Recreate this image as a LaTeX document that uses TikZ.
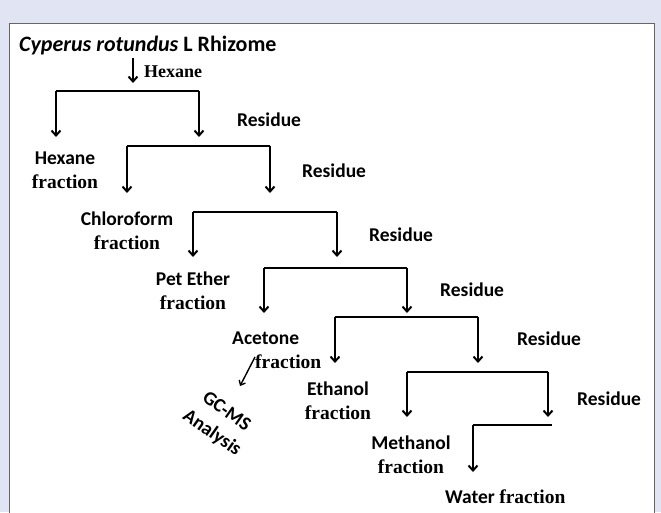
\documentclass[tikz,border=0pt]{standalone}
\usepackage{fontspec}
\usepackage{tikz}
\usetikzlibrary{arrows.meta,positioning}
\newfontfamily\calib{Carlito}
\newfontfamily\tms{Liberation Serif}
\definecolor{lavbg}{HTML}{E1E4F2}

\begin{document}
\begin{tikzpicture}[x=1pt,y=-1pt,
    sans/.style={font=\calib\bfseries\fontsize{19.5}{24}\selectfont,inner sep=0pt},
    frac/.style={sans,align=center},
    link/.style={line width=2pt,-{Straight Barb[length=5pt,width=9pt,line width=2pt]}},
    bar/.style={line width=2pt}]
        \useasboundingbox (0,0) rectangle (661,512);
        \fill[lavbg] (0,0) rectangle (661,512);
        \filldraw[fill=white,draw=gray!80!black,line width=0.8pt] (9,23) -- (9,520) -- (654,520) -- (654,23) -- cycle;
        % labels
        \node[inner sep=0pt,anchor=base west,font=\calib\bfseries\fontsize{22}{26}\selectfont] (plant) at (19,51) {\textit{Cyperus rotundus} L Rhizome};
        \node[inner sep=0pt,anchor=base west,font=\tms\bfseries\fontsize{18}{22}\selectfont] (hexsolv) at (144,77) {Hexane};
        \node[sans,anchor=base west] (res1) at (237,126) {Residue};
        \node[sans,anchor=base west] (res2) at (302,177) {Residue};
        \node[sans,anchor=base west] (res3) at (369,241) {Residue};
        \node[sans,anchor=base west] (res4) at (440,296) {Residue};
        \node[sans,anchor=base west] (res5) at (517,345) {Residue};
        \node[sans,anchor=base west] (res6) at (577,405) {Residue};
        \node[frac,anchor=north] (hexfr) at (65,152) {Hexane\\{\tms fraction}};
        \node[frac,anchor=north] (chlfr) at (127,212) {Chloroform\\{\tms fraction}};
        \node[frac,anchor=north] (petfr) at (193,272) {Pet Ether\\{\tms fraction}};
        \node[sans,align=left,anchor=north west] (acefr) at (232,332) {Acetone\\\hspace*{23pt}{\tms fraction}};
        \node[frac,anchor=north] (ethfr) at (338,382) {Ethanol\\{\tms fraction}};
        \node[frac,anchor=north] (metfr) at (411,436) {Methanol\\{\tms fraction}};
        \node[sans,anchor=base west] (watfr) at (445,503) {Water {\tms fraction}};
        \node[sans,rotate=-35] (gcms) at (227,411) {GC-MS};
        \node[sans,rotate=-35] (anal) at (212,433) {Analysis};
        % split points
        \coordinate (s0) at (133,58);  \coordinate (t0) at (133,83);
        \coordinate (l1) at (56,91);   \coordinate (r1) at (199,91);
        \coordinate (l2) at (127,146); \coordinate (r2) at (270,146);
        \coordinate (l3) at (193,212); \coordinate (r3) at (337,212);
        \coordinate (l4) at (264,268); \coordinate (r4) at (407,268);
        \coordinate (l5) at (335,317); \coordinate (r5) at (478,317);
        \coordinate (l6) at (407,372); \coordinate (r6) at (548,372);
        \coordinate (l7) at (473,425); \coordinate (r7) at (552,425);
        \coordinate (g0) at (255,357); \coordinate (g1) at (240,386);
        \draw[link] (s0) -- (t0);
        \draw[bar] (l1) -- (r1); \draw[bar] (l2) -- (r2); \draw[bar] (l3) -- (r3);
        \draw[bar] (l4) -- (r4); \draw[bar] (l5) -- (r5); \draw[bar] (l6) -- (r6);
        \draw[bar] (l7) -- (r7);
        \draw[link] (l1) -- ++(0,46);  \draw[link] (r1) -- ++(0,46);
        \draw[link] (l2) -- ++(0,47);  \draw[link] (r2) -- ++(0,47);
        \draw[link] (l3) -- ++(0,45);  \draw[link] (r3) -- ++(0,45);
        \draw[link] (l4) -- ++(0,45);  \draw[link] (r4) -- ++(0,45);
        \draw[link] (l5) -- ++(0,46);  \draw[link] (r5) -- ++(0,46);
        \draw[link] (l6) -- ++(0,45);  \draw[link] (r6) -- ++(0,45);
        \draw[link] (l7) -- ++(0,47);
        \draw[line width=1.4pt,-{Straight Barb[length=4pt,width=7pt,line width=1.4pt]}] (g0) -- (g1);
    \end{tikzpicture}
\end{document}
